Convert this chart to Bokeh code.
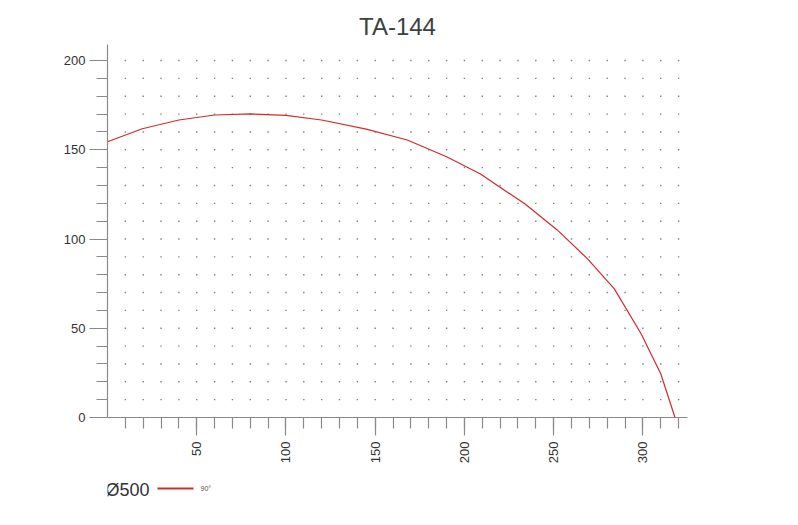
import math
from bokeh.plotting import figure
from bokeh.models import Range1d, FixedTicker
from bokeh.layouts import column
from bokeh.embed import file_html
from bokeh.resources import INLINE
from bokeh.core.properties import value

chart_title = "TA-144"
flow = [0, 19.5, 40, 60, 80, 100, 120, 145, 168, 190, 209, 234, 252, 269, 284, 299, 310, 318]
pressure = [154.5, 161.8, 166.7, 169.5, 170.1, 169.3, 166.7, 161.6, 155.5, 146.1,
            136.4, 119.6, 105.1, 88.9, 72.1, 46.9, 24.5, 0]
x_major = [50, 100, 150, 200, 250, 300]
x_minor = list(range(10, 330, 10))
y_major = [0, 50, 100, 150, 200]
y_minor = list(range(10, 210, 10))
series_name = "Ø500"
series_label = "90°"

FONT = "Liberation Sans"
RED = "#d42a2a"
AXIS = "#8a8a8a"
TXT = "#333333"

p = figure(width=782, height=468, x_range=Range1d(0, 325), y_range=Range1d(0, 209),
           toolbar_location=None, output_backend="svg",
           min_border_left=107, min_border_right=95, min_border_top=44, min_border_bottom=51)
p.outline_line_color = None
p.xgrid.visible = False
p.ygrid.visible = False

p.title.text = chart_title
p.title.align = "center"
p.title.text_font = FONT
p.title.text_font_size = "24px"
p.title.text_font_style = "normal"
p.title.text_color = "#3b4242"

# dotted grid at every minor tick crossing
gx = [x for y in y_minor for x in x_minor]
gy = [y for y in y_minor for x in x_minor]
p.scatter(gx, gy, marker="square", size=1.4, fill_color="#808080", line_color=None)

p.line(flow, pressure, line_color=RED, line_width=1.2)

for ax in (p.xaxis[0], p.yaxis[0]):
    ax.axis_line_color = AXIS
    ax.axis_line_width = 1.2
    ax.major_tick_line_color = AXIS
    ax.minor_tick_line_color = AXIS
    ax.major_tick_line_width = 1.2
    ax.minor_tick_line_width = 1.2
    ax.major_tick_in = 0
    ax.minor_tick_in = 0
    ax.major_tick_out = 18
    ax.minor_tick_out = 11
    ax.major_label_text_font = FONT
    ax.major_label_text_font_size = "13px"
    ax.major_label_text_color = TXT

p.xaxis.ticker = FixedTicker(ticks=x_major, minor_ticks=x_minor)
p.yaxis.ticker = FixedTicker(ticks=y_major, minor_ticks=y_minor)
p.xaxis.major_label_orientation = math.pi / 2
p.xaxis.major_label_standoff = 6
p.yaxis.major_label_standoff = 4

leg = figure(width=782, height=49, x_range=Range1d(107, 687), y_range=Range1d(517, 468),
             toolbar_location=None, output_backend="svg",
             min_border_left=107, min_border_right=95, min_border_top=0, min_border_bottom=0,
             x_axis_type=None, y_axis_type=None)
leg.outline_line_color = None
leg.text(x=[105], y=[489], text=[series_name], text_font=value(FONT), text_font_size="18px",
         text_color=TXT, text_baseline="middle", text_align="left")
leg.line(x=[157, 193], y=[488, 488], line_color=RED, line_width=2)
leg.text(x=[200], y=[488], text=[series_label], text_font=value(FONT), text_font_size="7px",
         text_color="#555555", text_baseline="middle", text_align="left")

layout = column(p, leg, spacing=0)
open("out.html", "w").write(file_html(layout, INLINE))
